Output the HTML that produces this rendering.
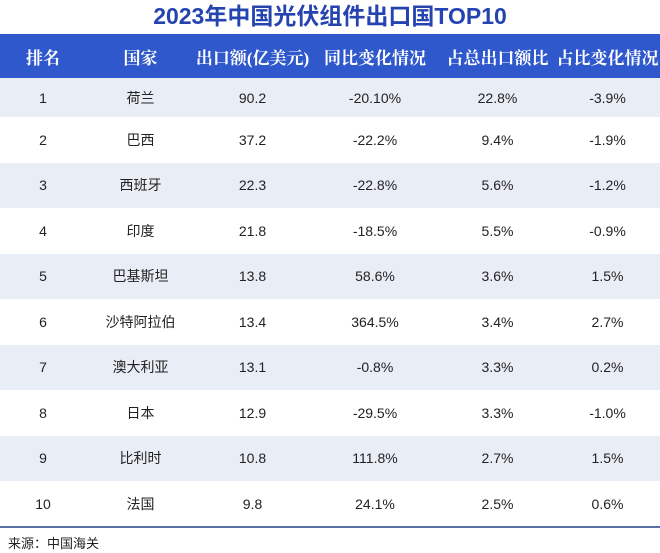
<!DOCTYPE html>
<html><head><meta charset="utf-8"><style>
body{margin:0;width:660px;height:553px;background:#fff;font-family:"Liberation Sans","Noto Sans CJK SC",sans-serif;position:relative;overflow:hidden}
#title{position:absolute;top:0;left:0;width:660px;height:34px;line-height:32px;text-align:center;font-size:23px;font-weight:bold;color:#2644b0}
table{position:absolute;top:34px;left:0;width:660px;border-collapse:collapse;table-layout:fixed}
th{background:#2f58cc;color:#fff;height:44px;font-size:17px;font-weight:bold;font-family:"Liberation Serif","Noto Serif CJK SC",serif;padding:0}
td{height:45.5px;text-align:center;font-size:14px;color:#222;padding:0}
tr.r1 td{height:39px}
tr:nth-child(odd) td{background:#e9edf5}
#bottomline{position:absolute;top:526px;left:0;width:660px;height:2px;background:#5a6ea8}
#src{position:absolute;top:533px;left:8px;font-size:13px;color:#222}
</style></head><body>
<div id="title">2023年中国光伏组件出口国TOP10</div>
<table>
<colgroup><col style="width:86px"><col style="width:109px"><col style="width:115px"><col style="width:130px"><col style="width:115px"><col style="width:105px"></colgroup>
<thead><tr><th>排名</th><th>国家</th><th>出口额(亿美元)</th><th>同比变化情况</th><th>占总出口额比</th><th>占比变化情况</th></tr></thead>
<tbody>
<tr class="r1"><td>1</td><td>荷兰</td><td>90.2</td><td>-20.10%</td><td>22.8%</td><td>-3.9%</td></tr>
<tr><td>2</td><td>巴西</td><td>37.2</td><td>-22.2%</td><td>9.4%</td><td>-1.9%</td></tr>
<tr><td>3</td><td>西班牙</td><td>22.3</td><td>-22.8%</td><td>5.6%</td><td>-1.2%</td></tr>
<tr><td>4</td><td>印度</td><td>21.8</td><td>-18.5%</td><td>5.5%</td><td>-0.9%</td></tr>
<tr><td>5</td><td>巴基斯坦</td><td>13.8</td><td>58.6%</td><td>3.6%</td><td>1.5%</td></tr>
<tr><td>6</td><td>沙特阿拉伯</td><td>13.4</td><td>364.5%</td><td>3.4%</td><td>2.7%</td></tr>
<tr><td>7</td><td>澳大利亚</td><td>13.1</td><td>-0.8%</td><td>3.3%</td><td>0.2%</td></tr>
<tr><td>8</td><td>日本</td><td>12.9</td><td>-29.5%</td><td>3.3%</td><td>-1.0%</td></tr>
<tr><td>9</td><td>比利时</td><td>10.8</td><td>111.8%</td><td>2.7%</td><td>1.5%</td></tr>
<tr><td>10</td><td>法国</td><td>9.8</td><td>24.1%</td><td>2.5%</td><td>0.6%</td></tr>
</tbody></table>
<div id="bottomline"></div>
<div id="src">来源：中国海关</div>
</body></html>
